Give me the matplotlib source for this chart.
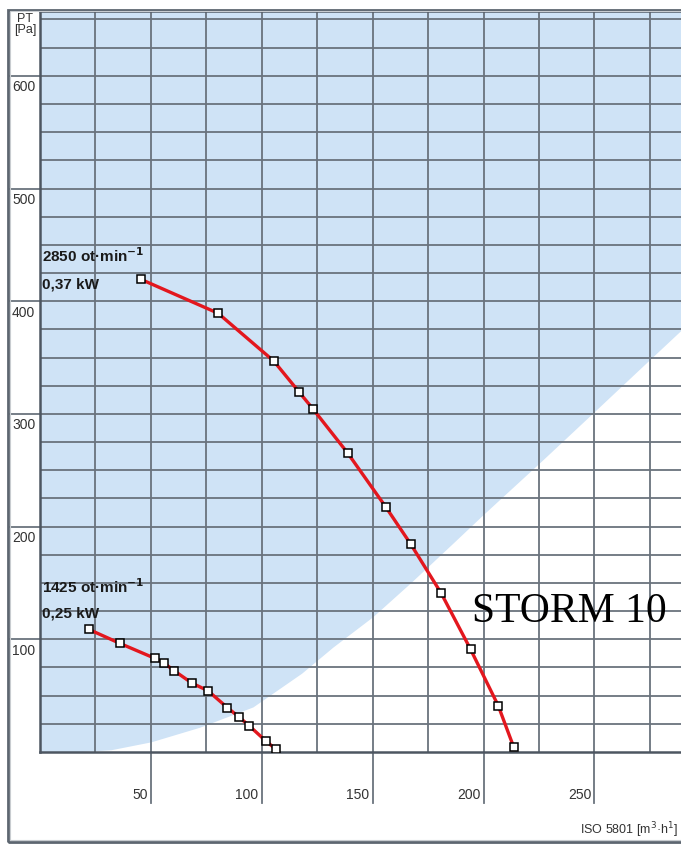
import numpy as np
import matplotlib.pyplot as plt
import matplotlib.transforms as mtransforms
from matplotlib.patches import Rectangle

# curva 2850 ot/min (Q m3/h, PT Pa)
q_2850 = [45.5, 80.3, 105.4, 116.7, 123.1, 138.7, 155.9, 167.1, 180.9, 194.1, 206.6, 213.6]
pt_2850 = [419.4, 389.3, 346.9, 319.7, 304.3, 265.3, 217.4, 184.6, 140.8, 91.2, 41.1, 4.2]

# curva 1425 ot/min
q_1425 = [21.9, 36.0, 51.8, 55.9, 60.5, 68.6, 75.7, 84.5, 89.6, 94.3, 101.8, 106.2]
pt_1425 = [108.9, 96.4, 83.1, 79.0, 72.1, 61.0, 54.4, 39.3, 31.3, 23.3, 9.8, 2.7]

# limite da zona azul
bnd_q = [0, 15, 32, 50, 72, 96, 118, 132, 150, 167, 186, 200, 226, 251, 271, 290]
bnd_pt = [0, 0, 2, 9, 22, 40, 70, 93, 120, 150, 185, 211, 258, 304, 341, 376]

x_ticks = [50, 100, 150, 200, 250]
y_ticks = [100, 200, 300, 400, 500, 600]

W, H = 681, 844
fig = plt.figure(figsize=(W / 100, H / 100), dpi=100)
fig.patch.set_facecolor('white')

def fx(px):
    return px / W

def fy(py):
    return (H - py) / H

ax = fig.add_axes([fx(40), fy(752), fx(W) - fx(40), fy(11) - fy(752)])
ax.set_xlim(0, 289)
ax.set_ylim(0, 657.5)

blue = '#cfe3f6'
gcol = '#6a737d'
ax.fill_between(bnd_q, bnd_pt, 700, color=blue, lw=0, zorder=0)

for v in np.arange(25, 289, 25):
    ax.axvline(v, color=gcol, lw=1.3, zorder=1)
for v in np.arange(25, 657, 25):
    ax.axhline(v, color=gcol, lw=1.3, zorder=1)

ax.set_xticks([])
ax.set_yticks([])
for s in ['left', 'top', 'bottom']:
    ax.spines[s].set_color('#4d5661')
    ax.spines[s].set_linewidth(1.8)
ax.spines['right'].set_visible(False)

# linhas que saem para as etiquetas
tr_h = mtransforms.blended_transform_factory(fig.transFigure, ax.transData)
tr_v = mtransforms.blended_transform_factory(ax.transData, fig.transFigure)
lbl_font = ['Liberation Sans Narrow', 'Liberation Sans']
for v in y_ticks:
    ax.plot([fx(10), fx(40)], [v, v], color=gcol, lw=1.3, transform=tr_h, clip_on=False)
    ax.text(fx(12), v - 4, str(v), transform=tr_h, ha='left', va='top',
            fontsize=10, family=lbl_font, color='#333333')
for v in x_ticks:
    ax.plot([v, v], [fy(752), fy(803)], color=gcol, lw=1.3, transform=tr_v, clip_on=False)
    ax.text(v - 1.5, fy(795), str(v), transform=tr_v, ha='right', va='center',
            fontsize=10, family=lbl_font, color='#333333')

fig.text(fx(25), fy(13), 'PT\n[Pa]', ha='center', va='top', fontsize=9,
         family=lbl_font, color='#333333', linespacing=0.85)
fig.text(fx(678), fy(830), 'ISO 5801 [m$^3$·h$^1$]', ha='right', va='center',
         fontsize=9, family=lbl_font, color='#333333')

red = '#e3171e'
mk = dict(marker='s', markersize=6, markerfacecolor='white', markeredgecolor='black',
          markeredgewidth=1.1)
ax.plot(q_2850, pt_2850, color=red, lw=2.4, zorder=3, **mk)
ax.plot(q_1425, pt_1425, color=red, lw=2.4, zorder=3, **mk)

bold_font = ['Liberation Sans Narrow', 'Liberation Sans']
ax.text(1, 440, '2850 ot·min$^{\\mathbf{-1}}$', fontsize=11, fontweight='bold',
        family=bold_font, va='center', color='#1a1a1a')
ax.text(1, 415, '0,37 kW', fontsize=11, fontweight='bold',
        family=bold_font, va='center', color='#1a1a1a')
ax.text(1, 147, '1425 ot·min$^{\\mathbf{-1}}$', fontsize=11, fontweight='bold',
        family=bold_font, va='center', color='#1a1a1a')
ax.text(1, 123, '0,25 kW', fontsize=11, fontweight='bold',
        family=bold_font, va='center', color='#1a1a1a')

fig.text(fx(472), fy(622), 'STORM 10', fontsize=30, family='Liberation Serif',
         ha='left', va='baseline', color='black')

# moldura exterior
fig.add_artist(Rectangle((fx(8), fy(842)), 1.0, fy(10) - fy(842), transform=fig.transFigure,
                         fill=False, lw=2, edgecolor='#5d6670'))
fig.add_artist(Rectangle((fx(10), fy(840)), 1.0, fy(11) - fy(840), transform=fig.transFigure,
                         fill=False, lw=0.8, edgecolor='#c8ccd0'))

fig.savefig('out.png', dpi=100)
